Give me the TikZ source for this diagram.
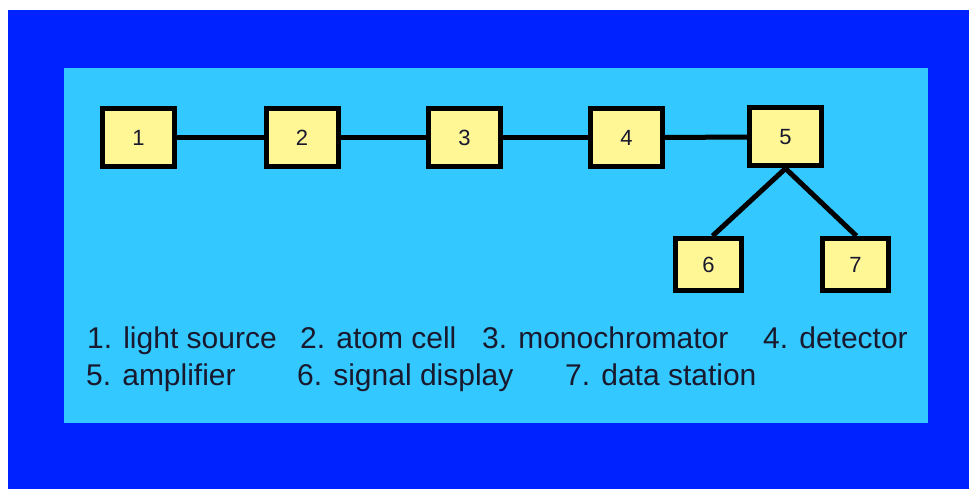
\documentclass[tikz,border=0pt]{standalone}
\usepackage{fontspec}
\setmainfont{Liberation Sans}
\definecolor{outerblue}{RGB}{0,34,255}
\definecolor{panel}{RGB}{51,200,255}
\definecolor{boxfill}{RGB}{255,246,150}
\definecolor{ink}{RGB}{25,25,45}
\tikzset{
  blk/.style={draw=black, fill=boxfill, line width=5pt, minimum width=72pt, minimum height=58pt, inner sep=0pt, font=\fontsize{22}{26}\selectfont, text=ink},
  smallblk/.style={blk, minimum width=66pt, minimum height=52pt},
  link/.style={draw=black, line width=5pt},
  legend/.style={anchor=base west, inner sep=0pt, font=\fontsize{30}{34}\selectfont, text=ink}
}
\begin{document}
\begin{tikzpicture}[x=1pt,y=-1pt]
\useasboundingbox (0,0) rectangle (969,489);
\fill[white] (0,0) rectangle (969,489);
\fill[outerblue] (8,10) rectangle (969,489);
\fill[panel] (64,68) rectangle (928,423);
\node[blk] (b1) at (138.5,137.5) {1};
\node[blk] (b2) at (302,137.5) {2};
\node[blk] (b3) at (464.5,137.5) {3};
\node[blk] (b4) at (626.5,137.5) {4};
\node[blk] (b5) at (785.5,137) {5};
\node[smallblk] (b6) at (708.5,264.5) {6};
\node[smallblk] (b7) at (855.5,264.5) {7};
\draw[link] (b1) -- (b2);
\draw[link] (b2) -- (b3);
\draw[link] (b3) -- (b4);
\draw[link] (b4) -- (b5);
\draw[link] (b5.south) -- ([xshift=4pt]b6.north);
\draw[link] (b5.south) -- ([xshift=1pt]b7.north);
\node[legend] (t1) at (87,348) {1. light source};
\node[legend] (t2) at (300,348) {2. atom cell};
\node[legend] (t3) at (482,348) {3. monochromator};
\node[legend] (t4) at (763,348) {4. detector};
\node[legend] (t5) at (86,385) {5. amplifier};
\node[legend] (t6) at (297,385) {6. signal display};
\node[legend] (t7) at (565,385) {7. data station};
\end{tikzpicture}
\end{document}
